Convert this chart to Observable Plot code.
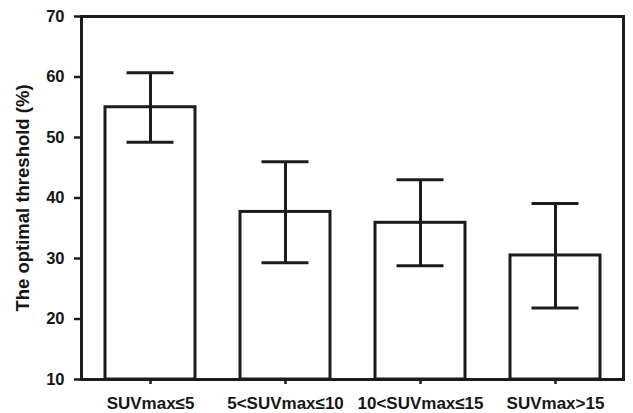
<!DOCTYPE html>
<html>
<head>
<meta charset="utf-8">
<script src="https://cdn.jsdelivr.net/npm/d3@7"></script>
<script src="https://cdn.jsdelivr.net/npm/@observablehq/plot@0.6"></script>
<style>
  html, body { margin: 0; padding: 0; background: #fff; }
  #chart svg { display: block; }
</style>
</head>
<body>
<div id="chart"></div>
<script>
const categories = ["SUVmax≤5", "5<SUVmax≤10", "10<SUVmax≤15", "SUVmax>15"];
const means = [55.0, 37.7, 35.9, 30.5];
const errLow = [49.2, 29.3, 28.8, 21.8];
const errHigh = [60.7, 46.0, 43.0, 39.1];
const yTicks = [10, 20, 30, 40, 50, 60, 70];
const yLabel = "The optimal threshold (%)";

const data = categories.map((c, i) => ({c, m: means[i], lo: errLow[i], hi: errHigh[i]}));
const ink = "#1c1c1c";

const chart = Plot.plot({
  width: 633,
  height: 413,
  marginLeft: 81,
  marginRight: 10,
  marginTop: 16,
  marginBottom: 34,
  style: {fontFamily: "'Liberation Sans', Arial, sans-serif", fontWeight: "bold", color: "#161616", background: "#fff"},
  x: {domain: categories, paddingInner: 0.336, paddingOuter: 0.168},
  y: {domain: [10, 70]},
  marks: [
    Plot.barY(data, {x: "c", y1: 10, y2: "m", fill: "white", stroke: ink, strokeWidth: 3}),
    Plot.ruleX(data, {x: "c", y1: "lo", y2: "hi", stroke: ink, strokeWidth: 3}),
    Plot.tickY(data, {x: "c", y: "hi", stroke: ink, strokeWidth: 3, insetLeft: 21.5, insetRight: 21.5}),
    Plot.tickY(data, {x: "c", y: "lo", stroke: ink, strokeWidth: 3, insetLeft: 21.5, insetRight: 21.5}),
    Plot.frame({stroke: ink, strokeWidth: 3}),
    Plot.axisY({ticks: yTicks, tickSize: 7, tickPadding: 10, strokeWidth: 2.5, stroke: ink, fontSize: 16.5,
      label: yLabel, labelAnchor: "center", labelArrow: "none", labelOffset: 66}),
    Plot.axisX({tickSize: 5, tickPadding: 12, strokeWidth: 2.5, stroke: ink, fontSize: 17, label: null})
  ]
});
const lab = chart.querySelector('[aria-label="y-axis label"]');
if (lab) { lab.setAttribute("font-size", "18.5"); lab.querySelectorAll("text").forEach(t => t.setAttribute("font-size", "18.5")); }
document.getElementById("chart").appendChild(chart);
</script>
</body>
</html>
